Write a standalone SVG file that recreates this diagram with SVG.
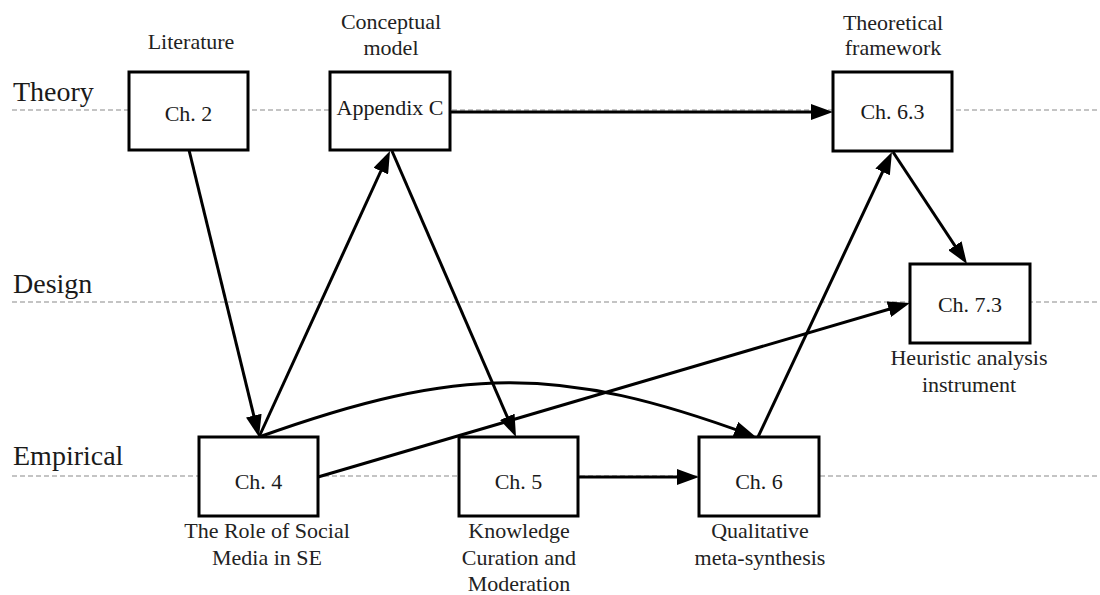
<svg xmlns="http://www.w3.org/2000/svg" width="1100" height="595" viewBox="0 0 1100 595">
  <defs>
    <style>
      .lane { stroke: #8a8a8a; stroke-width: 1.2; stroke-dasharray: 5 3; fill: none; }
      .lanelbl { font-family: "Liberation Serif", "Times New Roman", serif; font-size: 28px; fill: #1a1a1a; }
      .box { fill: #ffffff; stroke: #000000; stroke-width: 3; }
      .nt { font-family: "Liberation Serif", "Times New Roman", serif; font-size: 22px; fill: #1a1a1a; text-anchor: middle; }
      .lbl { font-family: "Liberation Serif", "Times New Roman", serif; font-size: 22px; fill: #222222; text-anchor: middle; }
      .edge { stroke: #000000; stroke-width: 3; fill: none; marker-end: url(#arr); }
    </style>
    <marker id="arr" markerUnits="userSpaceOnUse" markerWidth="22" markerHeight="16" refX="16" refY="8" orient="auto">
      <path d="M0,0 L22,8 L0,16 z" fill="#000000"/>
    </marker>
  </defs>

  <g id="lanes">
    <line class="lane" x1="12" y1="110" x2="1100" y2="110"/>
    <line class="lane" x1="12" y1="302" x2="1100" y2="302"/>
    <line class="lane" x1="12" y1="476" x2="1100" y2="476"/>
    <text class="lanelbl" x="13" y="101">Theory</text>
    <text class="lanelbl" x="13" y="293">Design</text>
    <text class="lanelbl" x="13" y="465">Empirical</text>
  </g>

  <g id="connectors">
    <path class="edge" d="M189,150 L257.6,431.2"/>
    <path class="edge" d="M259,437 L387.5,156.5"/>
    <path class="edge" d="M392,151 L513.6,431.5"/>
    <path class="edge" d="M450,112 L827,112"/>
    <path class="edge" d="M758,437 L889.4,157.4"/>
    <path class="edge" d="M893,152 L963.7,259"/>
    <path class="edge" d="M318,477 L904.2,304.7"/>
    <path class="edge" d="M259,437 C460,365 560,365 750.4,434.9"/>
    <path class="edge" d="M578,477 L693,477"/>
  </g>

  <g id="ch2">
    <rect class="box" x="129" y="72" width="119" height="78"/>
    <text class="nt" x="188.5" y="121">Ch. 2</text>
    <text class="lbl" x="191" y="49">Literature</text>
  </g>

  <g id="appC">
    <rect class="box" x="330" y="72" width="120" height="78"/>
    <text class="nt" x="390" y="115">Appendix C</text>
    <text class="lbl" x="391" y="29">Conceptual</text>
    <text class="lbl" x="391" y="55">model</text>
  </g>

  <g id="ch63">
    <rect class="box" x="833" y="72" width="119" height="79"/>
    <text class="nt" x="892.5" y="119">Ch. 6.3</text>
    <text class="lbl" x="893" y="30">Theoretical</text>
    <text class="lbl" x="893" y="55">framework</text>
  </g>

  <g id="ch73">
    <rect class="box" x="910" y="264" width="120" height="79"/>
    <text class="nt" x="970" y="312">Ch. 7.3</text>
    <text class="lbl" x="969" y="365">Heuristic analysis</text>
    <text class="lbl" x="969" y="392">instrument</text>
  </g>

  <g id="ch4">
    <rect class="box" x="199" y="437" width="119" height="79"/>
    <text class="nt" x="258.5" y="489">Ch. 4</text>
    <text class="lbl" x="267" y="538">The Role of Social</text>
    <text class="lbl" x="267" y="565">Media in SE</text>
  </g>

  <g id="ch5">
    <rect class="box" x="459" y="437" width="119" height="79"/>
    <text class="nt" x="518.5" y="489">Ch. 5</text>
    <text class="lbl" x="519" y="538">Knowledge</text>
    <text class="lbl" x="519" y="565">Curation and</text>
    <text class="lbl" x="519" y="591">Moderation</text>
  </g>

  <g id="ch6">
    <rect class="box" x="699" y="437" width="120" height="79"/>
    <text class="nt" x="759" y="489">Ch. 6</text>
    <text class="lbl" x="760" y="538">Qualitative</text>
    <text class="lbl" x="760" y="565">meta-synthesis</text>
  </g>
</svg>
